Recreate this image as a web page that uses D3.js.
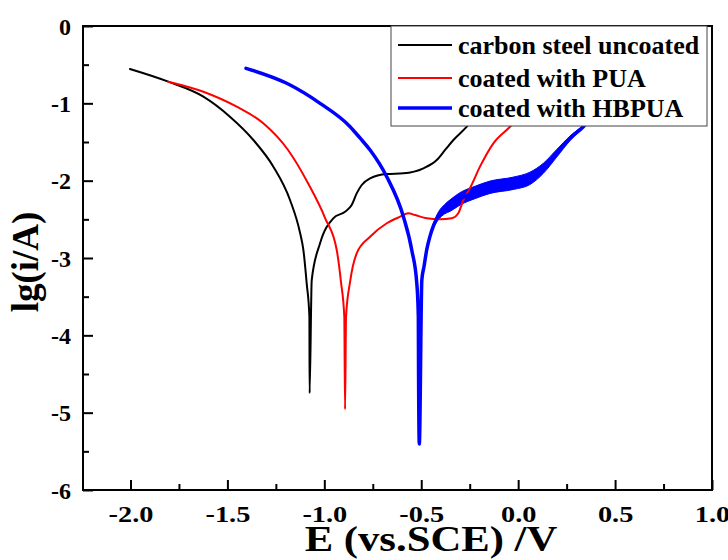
<!DOCTYPE html>
<html>
<head>
<meta charset="utf-8">
<script src="https://cdn.jsdelivr.net/npm/d3@7/dist/d3.min.js"></script>
<style>
  body { margin: 0; background: #fff; }
  svg { display: block; }
  text { font-family: "Liberation Serif", "Times New Roman", serif; font-weight: bold; fill: #000; }
</style>
</head>
<body>
<svg id="chart" width="728" height="560"></svg>
<script>
// Potentiodynamic polarization (Tafel) curves: potential E (V vs. SCE) and lg(i/A)
const uncoatedE  = [-2.003, -1.805, -1.624, -1.487, -1.366, -1.263, -1.177, -1.125, -1.108, -1.091, -1.077, -1.076,
                    -1.065, -1.022, -0.954, -0.893, -0.859, -0.833, -0.807, -0.764, -0.678, -0.592, -0.489, -0.420,
                    -0.377, -0.334, -0.265, -0.197, -0.145];
const uncoatedLg = [-0.556, -0.720, -0.914, -1.173, -1.474, -1.819, -2.250, -2.677, -2.897, -3.327, -3.759, -4.750,
                    -3.285, -2.810, -2.487, -2.401, -2.315, -2.164, -2.056, -1.970, -1.914, -1.905, -1.840, -1.733,
                    -1.603, -1.474, -1.302, -1.086, -0.957];

const puaE  = [-1.805, -1.624, -1.452, -1.315, -1.187, -1.084, -0.996, -0.936, -0.914, -0.897, -0.893,
               -0.888, -0.867, -0.833, -0.764, -0.678, -0.609, -0.567, -0.532, -0.472, -0.403, -0.343, -0.309,
               -0.283, -0.248, -0.197, -0.128, -0.042, 0.036];
const puaLg = [-0.720, -0.850, -1.044, -1.258, -1.604, -2.034, -2.483, -2.897, -3.311, -3.759, -4.957,
               -3.759, -3.306, -2.939, -2.725, -2.551, -2.466, -2.422, -2.444, -2.487, -2.500, -2.487, -2.422,
               -2.250, -2.095, -1.819, -1.517, -1.302, -1.086];

const hbpuaE  = [-1.404, -1.194, -1.022, -0.867, -0.816, -0.764, -0.678, -0.592, -0.549, -0.523, -0.515, -0.514, -0.510,
                 -0.497, -0.485, -0.472, -0.455, -0.435, -0.410, -0.380, -0.350, -0.300, -0.220, -0.145, -0.025,
                 0.061, 0.130, 0.199, 0.268, 0.336, 0.423];
const hbpuaLg = [-0.547, -0.741, -1.000, -1.302, -1.448, -1.604, -1.949, -2.466, -2.897, -3.327, -3.759, -4.420, -5.405,
                 -3.285, -3.100, -2.897, -2.720, -2.570, -2.450, -2.370, -2.320, -2.235, -2.150, -2.085, -2.034,
                 -1.970, -1.840, -1.646, -1.452, -1.302, -1.020];

// Spread of the noisy HBPUA anodic current
const hbpuaBandE    = [-0.455, -0.435, -0.410, -0.380, -0.350, -0.300, -0.220, -0.145, -0.025, 0.061, 0.130, 0.199, 0.268, 0.336];
const hbpuaBandLow  = [-2.735, -2.600, -2.500, -2.430, -2.395, -2.315, -2.230, -2.165, -2.114, -2.050, -1.905, -1.695, -1.482, -1.316];
const hbpuaBandHigh = [-2.705, -2.540, -2.400, -2.310, -2.245, -2.155, -2.070, -2.005, -1.954, -1.890, -1.775, -1.597, -1.422, -1.288];

const seriesNames  = ["carbon steel uncoated", "coated with PUA", "coated with HBPUA"];
const seriesColors = ["#000000", "#ff0000", "#0000ff"];
const seriesWidths = [2, 2, 3.5];

const xMajorTicks = [-2.0, -1.5, -1.0, -0.5, 0.0, 0.5, 1.0];
const xMinorTicks = [-1.75, -1.25, -0.75, -0.25, 0.25, 0.75];
const yMajorTicks = [0, -1, -2, -3, -4, -5, -6];
const yMinorTicks = [-0.5, -1.5, -2.5, -3.5, -4.5, -5.5];

const xLabel = "E (vs.SCE) /V";
const yLabel = "lg(i/A)";

const fontStack = '"Liberation Serif", "Times New Roman", serif';
const svg = d3.select("#chart");
const plotLeft = 83, plotRight = 712, plotTop = 26, plotBottom = 490;

const x = d3.scaleLinear().domain([-2.245, 1.0]).range([plotLeft, plotRight]);
const y = d3.scaleLinear().domain([-6, 0]).range([plotBottom, plotTop]);

// Curves
const line = d3.line()
  .x(d => x(d[0]))
  .y(d => y(d[1]))
  .curve(d3.curveMonotoneX);

const curves = [
  d3.zip(uncoatedE, uncoatedLg),
  d3.zip(puaE, puaLg),
  d3.zip(hbpuaE, hbpuaLg)
];

const plot = svg.append("g");

// HBPUA anodic scatter band
const band = d3.area()
  .x(d => x(d[0]))
  .y0(d => y(d[1]))
  .y1(d => y(d[2]))
  .curve(d3.curveMonotoneX);
plot.append("path")
  .datum(d3.zip(hbpuaBandE, hbpuaBandLow, hbpuaBandHigh))
  .attr("d", band)
  .attr("fill", seriesColors[2])
  .attr("stroke", seriesColors[2])
  .attr("stroke-width", 1);

curves.forEach((pts, i) => {
  plot.append("path")
    .datum(pts)
    .attr("d", line)
    .attr("fill", "none")
    .attr("stroke", seriesColors[i])
    .attr("stroke-width", seriesWidths[i])
    .attr("stroke-linejoin", "round")
    .attr("stroke-linecap", "round");
});

// Axes with inward ticks
const xAxis = svg.append("g").attr("transform", `translate(0,${plotBottom})`)
  .call(d3.axisBottom(x).tickValues(xMajorTicks).tickSize(-10).tickFormat(d3.format(".1f")));
svg.append("g").attr("transform", `translate(0,${plotBottom})`)
  .call(d3.axisBottom(x).tickValues(xMinorTicks).tickSize(-6).tickFormat(""));
const yAxis = svg.append("g").attr("transform", `translate(${plotLeft},0)`)
  .call(d3.axisLeft(y).tickValues(yMajorTicks).tickSize(-10).tickFormat(d3.format("d")));
svg.append("g").attr("transform", `translate(${plotLeft},0)`)
  .call(d3.axisLeft(y).tickValues(yMinorTicks).tickSize(-6).tickFormat(""));

svg.selectAll(".domain").remove();
svg.selectAll(".tick line").attr("stroke", "#000").attr("stroke-width", 2);

xAxis.selectAll("text")
  .text(d => d3.format(".1f")(d).replace("\u2212", "-"))
  .attr("y", 32).attr("dy", null)
  .style("font-family", fontStack).style("font-weight", "bold").style("font-size", "24px")
  .each(function () {
    const w = this.getComputedTextLength();
    d3.select(this).attr("textLength", w * 1.18).attr("lengthAdjust", "spacingAndGlyphs");
  });
yAxis.selectAll("text")
  .text(d => String(d))
  .attr("x", -12).attr("dy", "0.34em")
  .style("font-family", fontStack).style("font-weight", "bold").style("font-size", "24px");

// Frame
svg.append("rect")
  .attr("x", plotLeft).attr("y", plotTop)
  .attr("width", plotRight - plotLeft).attr("height", plotBottom - plotTop)
  .attr("fill", "none").attr("stroke", "#000").attr("stroke-width", 2);

// Axis titles
const xTitle = svg.append("text")
  .attr("x", 431).attr("y", 551)
  .attr("text-anchor", "middle")
  .style("font-size", "35px")
  .text(xLabel);
xTitle.attr("textLength", xTitle.node().getComputedTextLength() * 1.22).attr("lengthAdjust", "spacingAndGlyphs");

svg.append("text")
  .attr("transform", "translate(38,262) rotate(-90)")
  .attr("text-anchor", "middle")
  .style("font-size", "37px")
  .text(yLabel);

// Legend
const legend = svg.append("g");
legend.append("rect")
  .attr("x", 391).attr("y", 26).attr("width", 316).attr("height", 100)
  .attr("fill", "#fff").attr("stroke", "#444").attr("stroke-width", 1);
const rowY = [45, 78, 108];
seriesNames.forEach((name, i) => {
  legend.append("line")
    .attr("x1", 398).attr("x2", 452)
    .attr("y1", rowY[i]).attr("y2", rowY[i])
    .attr("stroke", seriesColors[i]).attr("stroke-width", seriesWidths[i]);
  legend.append("text")
    .attr("x", 458).attr("y", rowY[i] + 8.5)
    .style("font-size", "26px")
    .text(name);
});
</script>
</body>
</html>
